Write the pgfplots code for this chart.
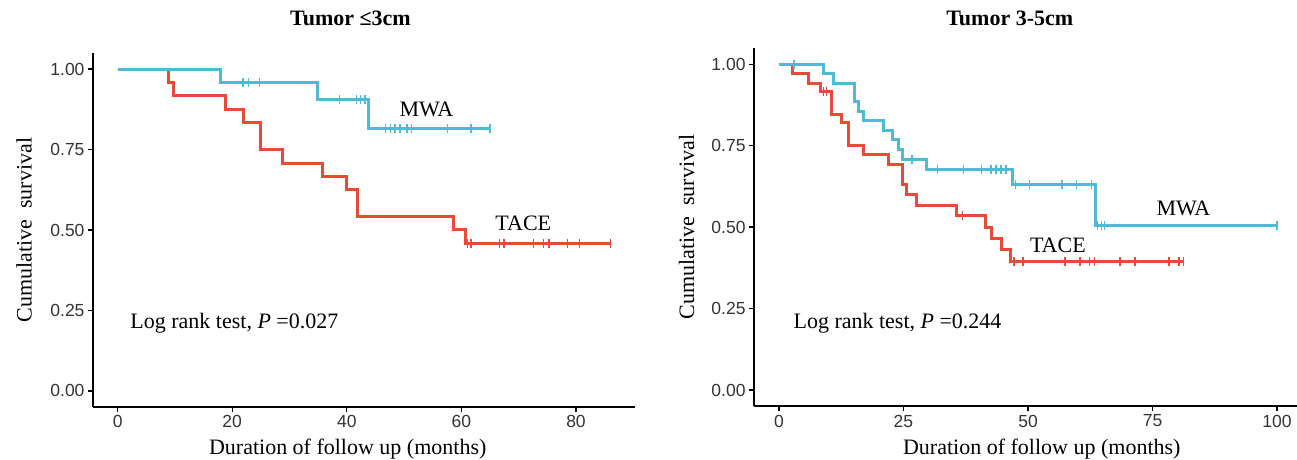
\documentclass[border=0pt]{standalone}
\usepackage{pgfplots}
\pgfplotsset{compat=1.18}
\usepackage{fontspec}
\setmainfont{Liberation Serif}
\newfontfamily\ticksans{Liberation Sans}
\definecolor{npgred}{HTML}{E64B35}
\definecolor{npgcyan}{HTML}{4DBBD5}
\definecolor{tickgray}{HTML}{333333}

\tikzset{kmtext/.style={font=\fontsize{22bp}{26bp}\selectfont}}
\pgfplotsset{
  kmaxis/.style={
    scale only axis,
    axis lines=left,
    axis line style={-, line width=1.6bp, black},
    tick style={line width=1.3bp, black},
    tick align=outside,
    major tick length=5bp,
    enlargelimits=false,
    ymin=-0.05, ymax=1.05,
    ytick={0,0.25,0.5,0.75,1},
    yticklabels={0.00,0.25,0.50,0.75,1.00},
    ticklabel style={font=\ticksans\fontsize{17.5bp}{20bp}\selectfont, text=tickgray},
    label style={font=\fontsize{22bp}{26bp}\selectfont},
    title style={font=\bfseries\fontsize{22bp}{26bp}\selectfont, anchor=center},
    ylabel={Cumulative\ \ survival},
    xlabel={Duration of follow up (months)},
  },
  kmline/.style={const plot mark left, no marks, line width=3bp},
  kmcens/.style={only marks, mark=|, mark size=4.5bp, mark options={line width=1.4bp}},
}

\begin{document}
\begin{tikzpicture}
\path[use as bounding box] (0,0) rectangle (1297bp,460bp);

% ---------------- Left panel ----------------
\begin{axis}[kmaxis,
  at={(93bp,53bp)}, anchor=south west,
  width=542bp, height=354bp,
  xmin=-4.3, xmax=90.3,
  xtick={0,20,40,60,80}, xticklabels={0,20,40,60,80},
  title={Tumor ≤3cm},
  title style={at={(axis description cs:0.475,1.082)}},
  ylabel style={at={(axis description cs:-0.127,0.5)}, anchor=center},
  xlabel style={at={(axis description cs:0.47,-0.119)}, anchor=center},
]
% TACE
\addplot[kmline, npgred] coordinates {
(0,1) (8.9,0.958) (9.8,0.917) (18.9,0.875) (21.9,0.833) (24.9,0.75)
(28.8,0.708) (35.8,0.667) (39.9,0.625) (41.8,0.542) (58.7,0.5)
(60.8,0.458) (86,0.458)};
\addplot[kmcens, npgred] coordinates {
(61.1,0.458) (61.7,0.458) (66.6,0.458) (67.4,0.458) (72.6,0.458)
(74.3,0.458) (75.3,0.458) (78.5,0.458) (80.6,0.458) (86.0,0.458)};
% MWA
\addplot[kmline, npgcyan] coordinates {
(0,1) (17.9,0.957) (34.9,0.904) (43.8,0.816) (65.0,0.816)};
\addplot[kmcens, npgcyan] coordinates {
(21.9,0.957) (22.8,0.957) (24.8,0.957)
(38.7,0.904) (41.7,0.904) (42.4,0.904) (43.2,0.904)
(46.7,0.816) (47.6,0.816) (48.4,0.816) (49.3,0.816) (50.5,0.816)
(51.3,0.816) (57.6,0.816) (61.7,0.816) (65.0,0.816)};
\node[kmtext] at (axis cs:53.9,0.874) {MWA};
\node[kmtext] at (axis cs:70.8,0.52) {TACE};
\node[kmtext, anchor=base west, inner sep=0pt]
  at (axis cs:2.2,0.194) {Log rank test, \textit{P} =0.027};
\end{axis}

% ---------------- Right panel ----------------
\begin{axis}[kmaxis,
  at={(754bp,53.7bp)}, anchor=south west,
  width=543bp, height=358.3bp,
  xmin=-5, xmax=104,
  xtick={0,25,50,75,100}, xticklabels={0,25,50,75,100},
  title={Tumor 3-5cm},
  title style={at={(axis description cs:0.471,1.067)}},
  ylabel style={at={(axis description cs:-0.124,0.5)}, anchor=center},
  xlabel style={at={(axis description cs:0.53,-0.119)}, anchor=center},
]
% TACE
\addplot[kmline, npgred] coordinates {
(0,1) (2.8,0.971) (6.0,0.942) (8.3,0.917) (10.5,0.847) (12.5,0.821)
(13.9,0.752) (16.9,0.722) (21.9,0.691) (24.9,0.632) (25.6,0.6)
(27.6,0.567) (35.6,0.536) (41.5,0.5) (42.6,0.466) (44.6,0.432)
(46.4,0.395) (81.2,0.395)};
\addplot[kmcens, npgred] coordinates {
(8.9,0.917) (9.5,0.917) (36.8,0.536)
(47.2,0.395) (49.0,0.395) (57.4,0.395) (60.4,0.395) (62.4,0.395)
(63.3,0.395) (68.5,0.395) (71.5,0.395) (78.3,0.395) (80.3,0.395) (81.2,0.395)};
% MWA
\addplot[kmline, npgcyan] coordinates {
(0,1) (8.9,0.972) (11.0,0.942) (15.1,0.885) (15.9,0.855) (16.9,0.826)
(21.0,0.798) (22.9,0.768) (24.1,0.737) (24.9,0.708) (29.6,0.678)
(46.8,0.632) (63.5,0.504) (100,0.504)};
\addplot[kmcens, npgcyan] coordinates {
(3.0,1) (26.7,0.708)
(31.8,0.678) (37.0,0.678) (40.7,0.678) (42.6,0.678) (43.6,0.678) (44.6,0.678) (45.6,0.678)
(47.5,0.632) (50.3,0.632) (56.8,0.632) (59.7,0.632) (62.7,0.632)
(64.0,0.504) (64.7,0.504) (65.4,0.504) (100,0.504)};
\node[kmtext] at (axis cs:81.2,0.558) {MWA};
\node[kmtext] at (axis cs:56,0.443) {TACE};
\node[kmtext, anchor=base west, inner sep=0pt]
  at (axis cs:2.9,0.19) {Log rank test, \textit{P} =0.244};
\end{axis}
\end{tikzpicture}
\end{document}
